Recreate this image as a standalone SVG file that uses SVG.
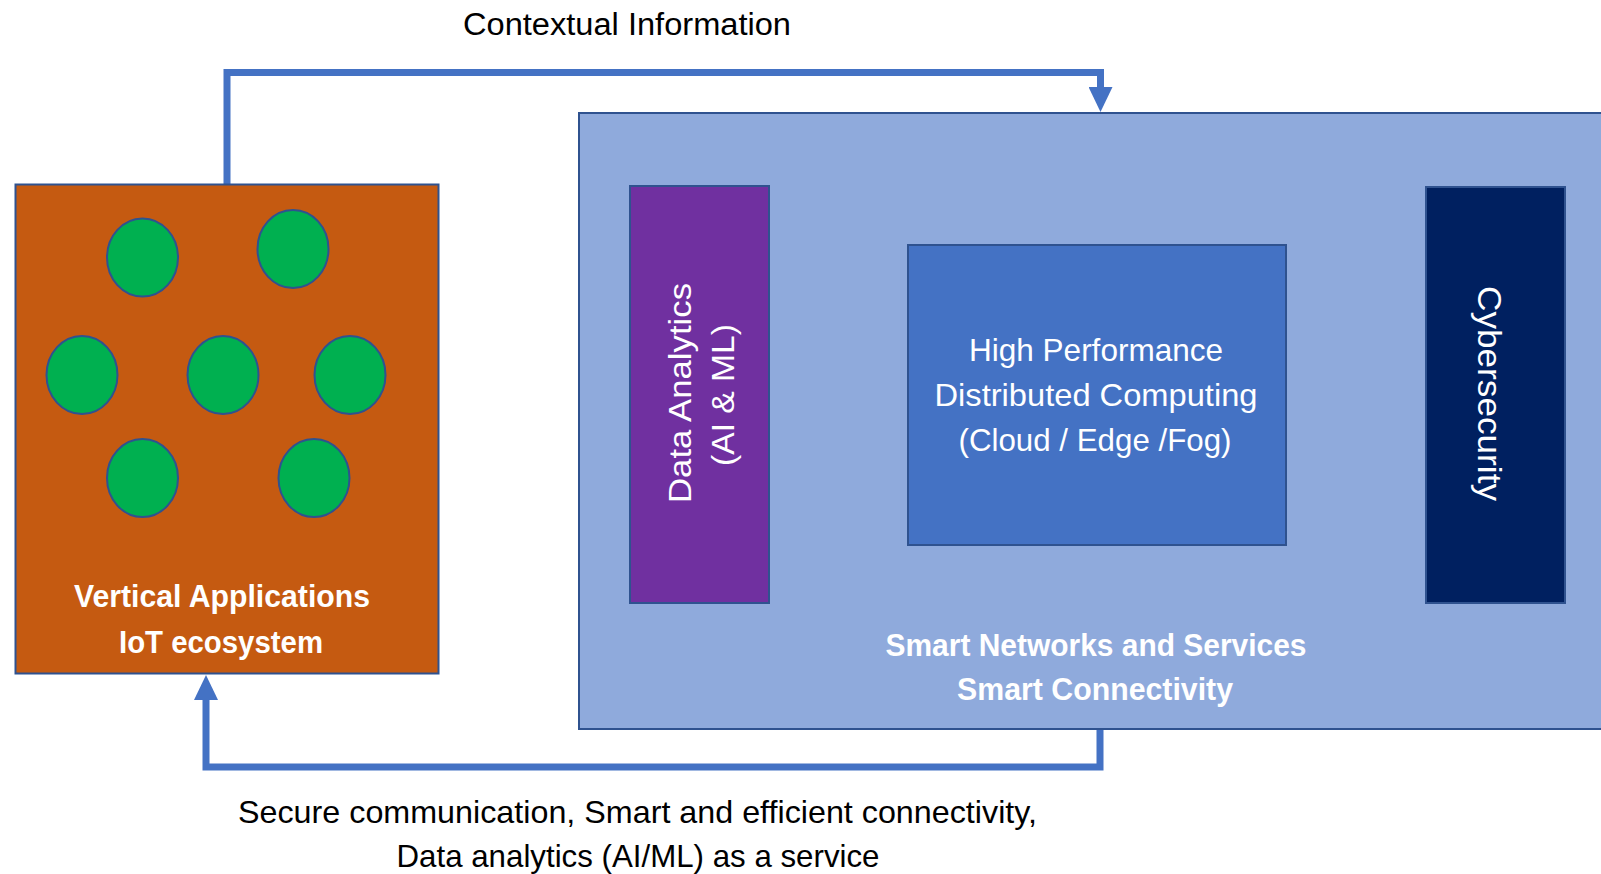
<svg xmlns="http://www.w3.org/2000/svg" width="1601" height="874" viewBox="0 0 1601 874">
<style>
  .box { stroke: #2F528F; stroke-width: 2; }
  .dot { fill: #00B050; stroke: #2F528F; stroke-width: 2; }
  .conn { fill: none; stroke: #4472C4; stroke-width: 7; stroke-linejoin: miter; }
  .t { font-family: "Liberation Sans", Arial, sans-serif; text-anchor: middle; }
  .w { fill: #FFFFFF; }
  .k { fill: #000000; }
  .b { font-weight: bold; }
</style>
<defs>
  <marker id="arrow" markerUnits="userSpaceOnUse" markerWidth="25" markerHeight="24" viewBox="0 0 25 24" refX="0" refY="12" orient="auto">
    <path d="M0,0 L25,12 L0,24 Z" fill="#4472C4"/>
  </marker>
</defs>
<rect width="1601" height="874" fill="#FFFFFF"/>

<g id="connectors">
  <path class="conn" d="M227,184 V72.5 H1100.5 V87" marker-end="url(#arrow)"/>
  <path class="conn" d="M1100,729 V767 H206 V700" marker-end="url(#arrow)"/>
</g>

<g id="label-contextual">
  <text class="t k" x="627" y="35" font-size="31" textLength="328" lengthAdjust="spacingAndGlyphs">Contextual Information</text>
</g>

<g id="label-services">
  <text class="t k" x="637.5" y="823" font-size="32" textLength="799" lengthAdjust="spacingAndGlyphs">Secure communication, Smart and efficient connectivity,</text>
  <text class="t k" x="638" y="867" font-size="32" textLength="483" lengthAdjust="spacingAndGlyphs">Data analytics (AI/ML) as a service</text>
</g>

<g id="iot-ecosystem">
  <rect class="box" x="15.5" y="184.5" width="423" height="489" fill="#C55A11"/>
  <ellipse class="dot" cx="142.5" cy="257.5" rx="35.5" ry="39"/>
  <ellipse class="dot" cx="293" cy="249" rx="35.5" ry="39"/>
  <ellipse class="dot" cx="82" cy="375" rx="35.5" ry="39"/>
  <ellipse class="dot" cx="223" cy="375" rx="35.5" ry="39"/>
  <ellipse class="dot" cx="350" cy="375" rx="35.5" ry="39"/>
  <ellipse class="dot" cx="142.5" cy="478" rx="35.5" ry="39"/>
  <ellipse class="dot" cx="314" cy="478" rx="35.5" ry="39"/>
  <text class="t w b" x="222" y="607" font-size="32" textLength="296" lengthAdjust="spacingAndGlyphs">Vertical Applications</text>
  <text class="t w b" x="221" y="653" font-size="32" textLength="204" lengthAdjust="spacingAndGlyphs">IoT ecosystem</text>
</g>

<g id="smart-networks">
  <rect class="box" x="579" y="113" width="1100" height="616" fill="#8FAADC"/>
  <text class="t w b" x="1096" y="656" font-size="31" textLength="421" lengthAdjust="spacingAndGlyphs">Smart Networks and Services</text>
  <text class="t w b" x="1095" y="700" font-size="31" textLength="276" lengthAdjust="spacingAndGlyphs">Smart Connectivity</text>
</g>

<g id="data-analytics">
  <rect class="box" x="630" y="186" width="139" height="417" fill="#7030A0"/>
  <text class="t w" transform="translate(691,393) rotate(-90)" font-size="32" textLength="220" lengthAdjust="spacingAndGlyphs">Data Analytics</text>
  <text class="t w" transform="translate(734,395) rotate(-90)" font-size="32" textLength="142" lengthAdjust="spacingAndGlyphs">(AI &amp; ML)</text>
</g>

<g id="hpc">
  <rect class="box" x="908" y="245" width="378" height="300" fill="#4472C4"/>
  <text class="t w" x="1096" y="361" font-size="32" textLength="254" lengthAdjust="spacingAndGlyphs">High Performance</text>
  <text class="t w" x="1096" y="406" font-size="32" textLength="323" lengthAdjust="spacingAndGlyphs">Distributed Computing</text>
  <text class="t w" x="1095" y="451" font-size="32" textLength="273" lengthAdjust="spacingAndGlyphs">(Cloud / Edge /Fog)</text>
</g>

<g id="cybersecurity">
  <rect class="box" x="1426" y="187" width="139" height="416" fill="#002060"/>
  <text class="t w" transform="translate(1478,393.5) rotate(90)" font-size="34" textLength="215" lengthAdjust="spacingAndGlyphs">Cybersecurity</text>
</g>
</svg>
